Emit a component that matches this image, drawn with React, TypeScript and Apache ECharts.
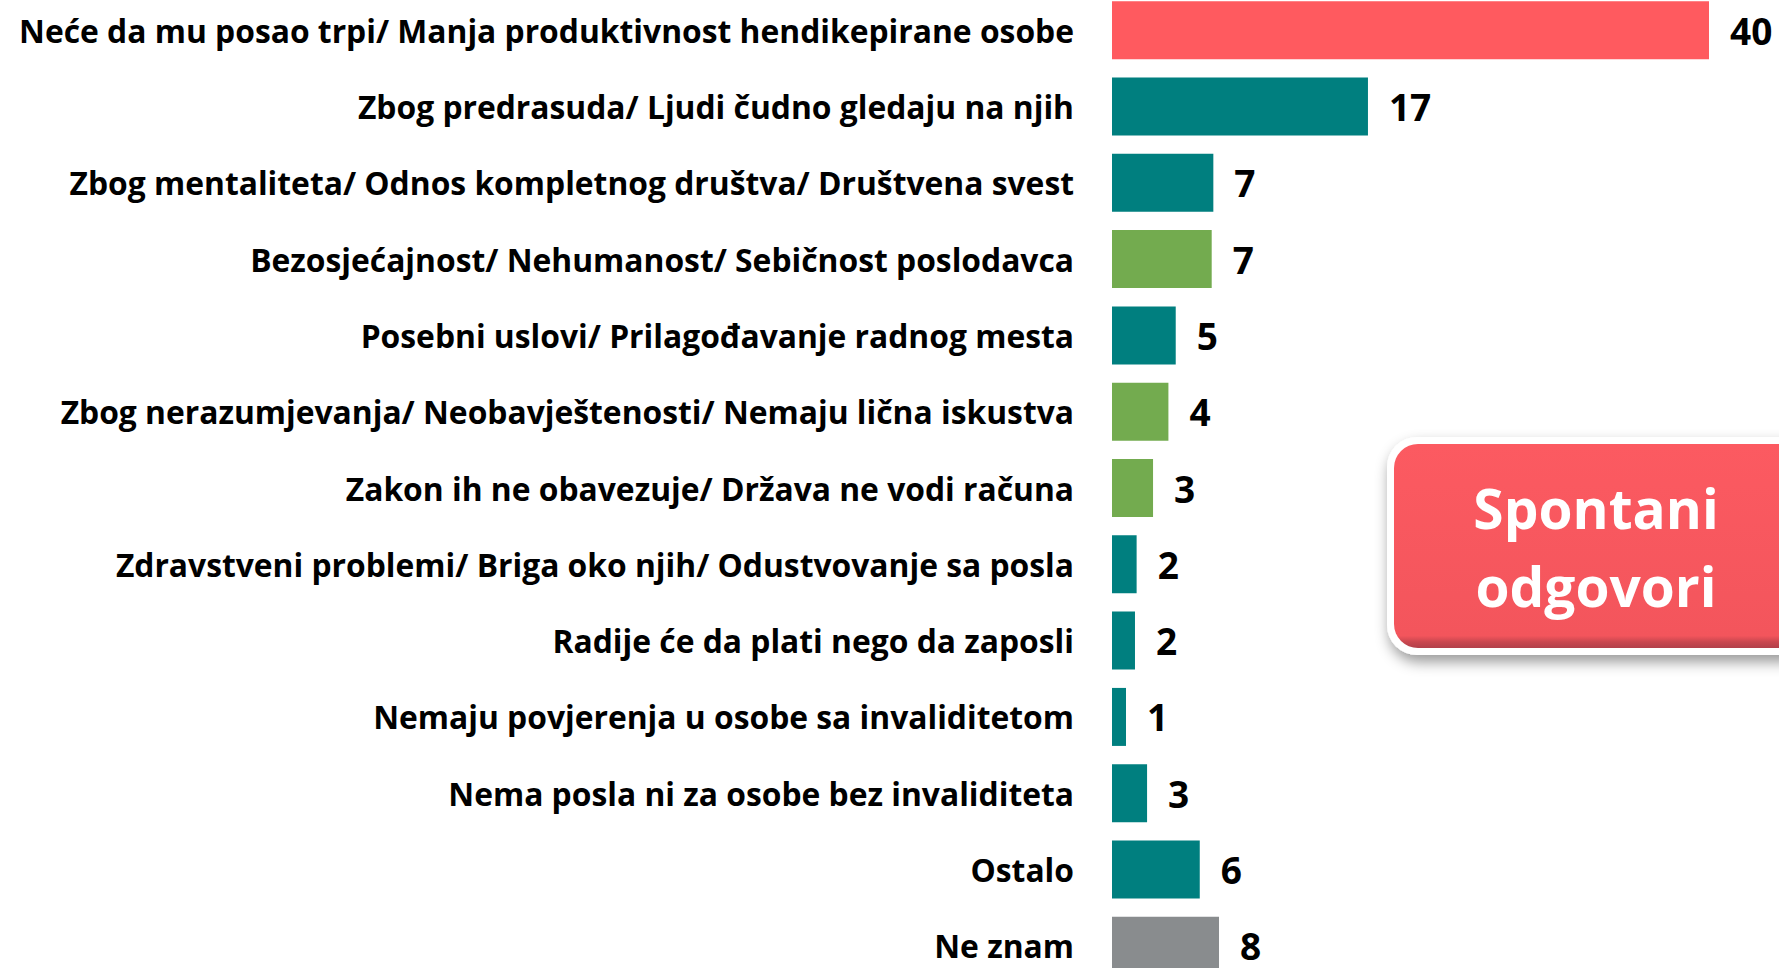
import React, { useEffect, useRef } from "react";
import * as echarts from "echarts";

const categories = [
  "Neće da mu posao trpi/ Manja produktivnost hendikepirane osobe",
  "Zbog predrasuda/ Ljudi čudno gledaju na njih",
  "Zbog mentaliteta/ Odnos kompletnog društva/ Društvena svest",
  "Bezosjećajnost/ Nehumanost/ Sebičnost poslodavca",
  "Posebni uslovi/ Prilagođavanje radnog mesta",
  "Zbog nerazumjevanja/ Neobavještenosti/ Nemaju lična iskustva",
  "Zakon ih ne obavezuje/ Država ne vodi računa",
  "Zdravstveni problemi/ Briga oko njih/ Odustvovanje sa posla",
  "Radije će da plati nego da zaposli",
  "Nemaju povjerenja u osobe sa invaliditetom",
  "Nema posla ni za osobe bez invaliditeta",
  "Ostalo",
  "Ne znam",
];

// bar lengths as drawn in the picture
const barValues = [40, 17.15, 6.79, 6.68, 4.27, 3.78, 2.75, 1.65, 1.54, 0.94, 2.35, 5.88, 7.17];
// numbers printed next to the bars
const labelValues = [40, 17, 7, 7, 5, 4, 3, 2, 2, 1, 3, 6, 8];
// colour group of each bar
const groups = ["top", "teal", "teal", "green", "teal", "green", "green", "teal", "teal", "teal", "teal", "teal", "gray"];

const calloutLines = ["Spontani", "odgovori"];

const groupColors: Record<string, string> = {
  top: "#FF5A5F",
  teal: "#007F7F",
  green: "#73AB4F",
  gray: "#898C8E",
};

const FONT = "'Open Sans', 'Noto Sans', sans-serif";
const SHIFT = 8; // chart canvas starts 8px above the page top

export default function App() {
  const ref = useRef<HTMLDivElement>(null);

  useEffect(() => {
    if (!ref.current) return;
    const chart = echarts.init(ref.current, null, { renderer: "svg" });
    chart.setOption({
      animation: false,
      backgroundColor: "#ffffff",
      grid: { left: 1112, top: 0, width: 597, height: 992, containLabel: false },
      xAxis: {
        type: "value",
        min: 0,
        max: 40,
        show: false,
      },
      yAxis: {
        type: "category",
        inverse: true,
        data: categories,
        axisLine: { show: false },
        axisTick: { show: false },
        splitLine: { show: false },
        axisLabel: {
          margin: 38,
          color: "#000000",
          fontFamily: FONT,
          fontWeight: "bold",
          fontSize: 31.8,
          align: "right",
        },
      },
      series: [
        {
          type: "bar",
          barWidth: 58,
          data: barValues.map((v, i) => ({
            value: v,
            itemStyle: { color: groupColors[groups[i]] },
            label: {
              show: true,
              position: "right",
              distance: 21,
              formatter: String(labelValues[i]),
              color: "#000000",
              fontFamily: FONT,
              fontWeight: "bold",
              fontSize: 37,
              lineHeight: 37,
            },
          })),
        },
      ],
      graphic: [
        {
          type: "rect",
          shape: { x: 1387, y: 437 + SHIFT, width: 460, height: 218, r: 30 },
          style: {
            fill: "#ffffff",
            shadowBlur: 14,
            shadowColor: "rgba(0,0,0,0.4)",
            shadowOffsetX: 2,
            shadowOffsetY: 7,
          },
          z: 10,
        },
        {
          type: "rect",
          shape: { x: 1394, y: 444 + SHIFT, width: 450, height: 204, r: 24 },
          style: {
            fill: new echarts.graphic.LinearGradient(0, 0, 0, 1, [
              { offset: 0, color: "#FC5A61" },
              { offset: 0.94, color: "#F3555C" },
              { offset: 0.97, color: "#C9474F" },
              { offset: 1, color: "#B2404A" },
            ]),
          },
          z: 11,
        },
        {
          type: "text",
          x: 1596,
          y: 507 + SHIFT,
          style: {
            text: calloutLines[0],
            fill: "#ffffff",
            font: `bold 55px ${FONT}`,
            align: "center",
            verticalAlign: "middle",
          },
          z: 12,
        },
        {
          type: "text",
          x: 1596,
          y: 585 + SHIFT,
          style: {
            text: calloutLines[1],
            fill: "#ffffff",
            font: `bold 55px ${FONT}`,
            align: "center",
            verticalAlign: "middle",
          },
          z: 12,
        },
      ],
    });
    return () => chart.dispose();
  }, []);

  return (
    <div
      style={{
        position: "fixed",
        left: 0,
        top: 0,
        width: 1779,
        height: 968,
        overflow: "hidden",
        background: "#ffffff",
      }}
    >
      <div
        ref={ref}
        style={{ position: "absolute", left: 0, top: -SHIFT, width: 1779, height: 1001 }}
      />
    </div>
  );
}
